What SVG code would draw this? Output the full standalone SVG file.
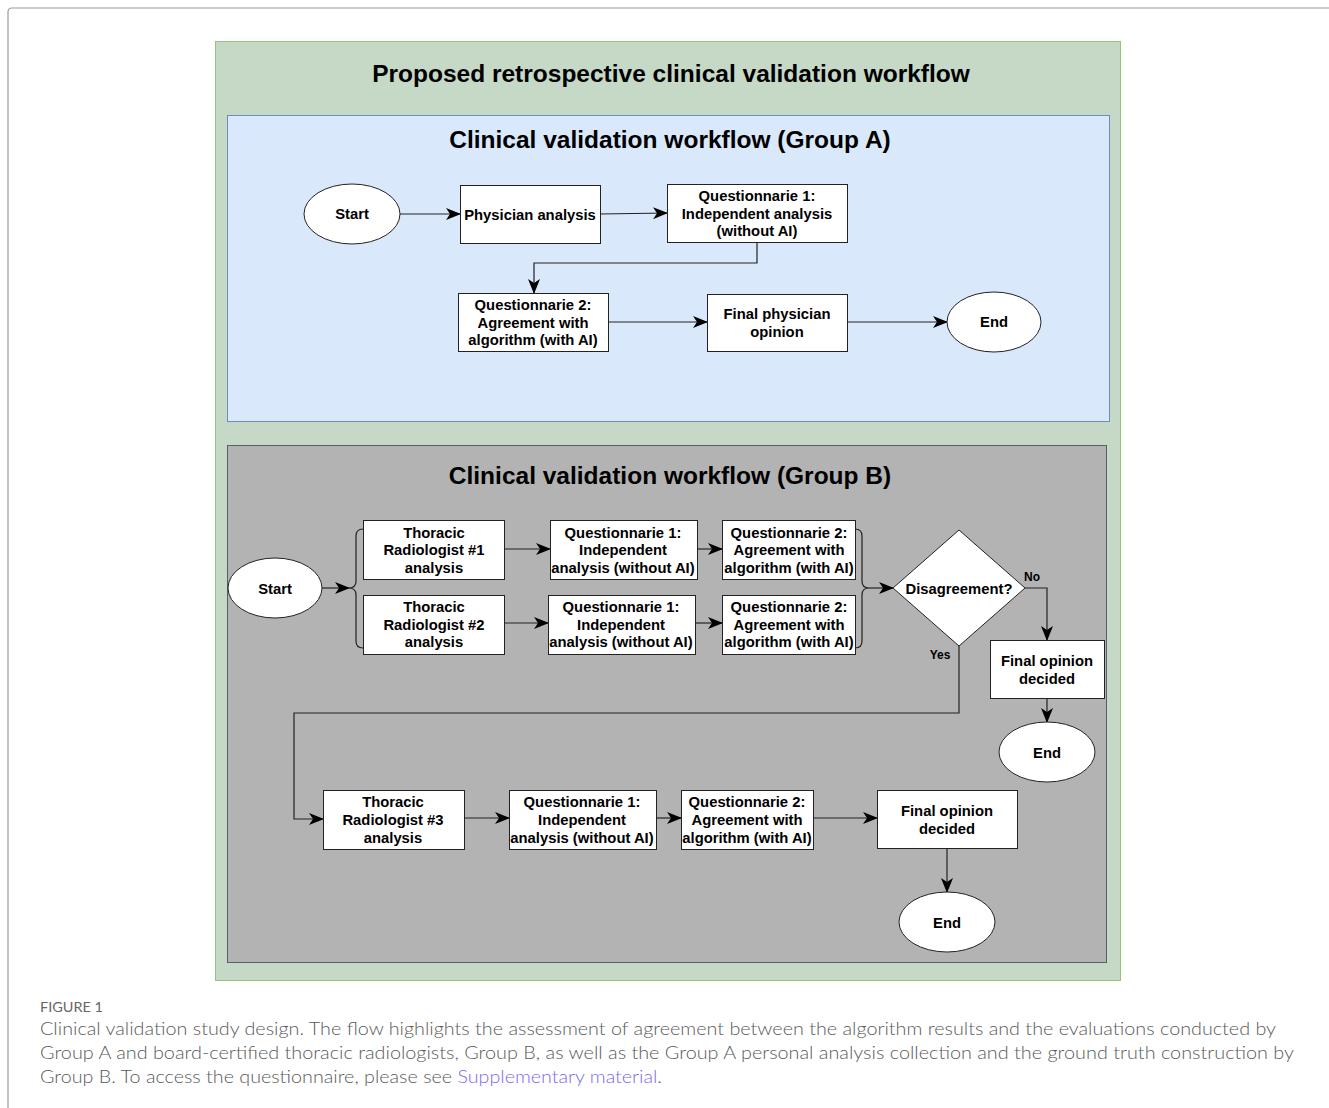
<svg xmlns="http://www.w3.org/2000/svg" width="1329" height="1108" viewBox="0 0 1329 1108">
<defs>
<marker id="arr" markerUnits="userSpaceOnUse" markerWidth="15" markerHeight="12" refX="14" refY="6" orient="auto">
<path d="M0,0 L15,6 L0,12 L4,6 Z" fill="#000"/>
</marker>
<style>
.box{fill:#fff;stroke:#222;stroke-width:1}
.t{font-family:"Liberation Sans",Arial,sans-serif;font-weight:bold;font-size:14.8px;fill:#000;text-anchor:middle}
.h{font-family:"Liberation Sans",Arial,sans-serif;font-weight:bold;font-size:24.5px;fill:#000;text-anchor:middle}
.lbl{font-family:"Liberation Sans",Arial,sans-serif;font-weight:bold;font-size:12px;fill:#000;text-anchor:middle}
.c{fill:none;stroke:#222;stroke-width:1.2}
.ca{fill:none;stroke:#222;stroke-width:1.2;marker-end:url(#arr)}
.cap{font-family:Lato,"Open Sans",sans-serif;font-size:17px;fill:#5a5a5a;font-weight:300}
</style>
</defs>
<rect width="1329" height="1108" fill="#fff"/>
<path d="M8,1108 L8,12 Q8,8 12,8 L1329,8" fill="none" stroke="#9a9a9a" stroke-width="1.2"/>

<g id="container">
<rect x="215.5" y="41.5" width="905" height="939" fill="#c6d9c7" stroke="#93c47d" stroke-width="1"/>
<text class="h" x="671" y="82">Proposed retrospective clinical validation workflow</text>
</g>

<g id="groupA">
<rect x="227.5" y="115.5" width="882" height="306" fill="#dae8fc" stroke="#6c8ebf" stroke-width="1"/>
<text class="h" x="670" y="148">Clinical validation workflow (Group A)</text>
</g>

<g id="groupB">
<rect x="227.5" y="445.5" width="879" height="517" fill="#b3b3b3" stroke="#4f6464" stroke-width="1"/>
<text class="h" x="670" y="484">Clinical validation workflow (Group B)</text>
</g>

<g id="connectors">
<!-- Group A -->
<path class="ca" d="M400,214 L460,214"/>
<path class="ca" d="M600,214 L667,213"/>
<path class="ca" d="M757,242 L757,263 L534,263 L534,293"/>
<path class="ca" d="M608,322 L707,322"/>
<path class="ca" d="M847,322 L947,322"/>
<!-- Group B -->
<path class="ca" d="M322,588 L349,588"/>
<path class="c" d="M363,529 Q356,529 356,536 L356,581 Q356,588 349,588 Q356,588 356,595 L356,641 Q356,648 363,648"/>
<path class="ca" d="M504,549 L550,549"/>
<path class="ca" d="M697,549 L722,549"/>
<path class="ca" d="M504,623 L548,623"/>
<path class="ca" d="M695,623 L722,623"/>
<path class="c" d="M855,529 Q862,529 862,536 L862,581 Q862,588 869,588 Q862,588 862,595 L862,641 Q862,648 855,648"/>
<path class="ca" d="M869,588 L893,588"/>
<path class="ca" d="M1025,588 L1047,588 L1047,640"/>
<text class="lbl" x="1032" y="581">No</text>
<path class="ca" d="M1047,698 L1047,722"/>
<path class="ca" d="M959,646 L959,713 L294,713 L294,819 L323,819"/>
<text class="lbl" x="940" y="659">Yes</text>
<path class="ca" d="M464,818 L509,818"/>
<path class="ca" d="M656,818 L681,818"/>
<path class="ca" d="M813,818 L877,818"/>
<path class="ca" d="M947,848 L947,892"/>
</g>

<g id="a_start"><ellipse class="box" cx="352" cy="214" rx="48" ry="30"/><text class="t" x="352" y="219">Start</text></g>
<g id="a_physician"><rect class="box" x="460.5" y="185.5" width="140" height="58"/><text class="t" x="530" y="220">Physician analysis</text></g>
<g id="a_q1"><rect class="box" x="667.5" y="184.5" width="180" height="58"/>
<text class="t" x="757" y="201">Questionnarie 1:</text><text class="t" x="757" y="219">Independent analysis</text><text class="t" x="757" y="236">(without AI)</text></g>
<g id="a_q2"><rect class="box" x="458.5" y="293.5" width="150" height="58"/>
<text class="t" x="533" y="310">Questionnarie 2:</text><text class="t" x="533" y="328">Agreement with</text><text class="t" x="533" y="345">algorithm (with AI)</text></g>
<g id="a_final"><rect class="box" x="707.5" y="294.5" width="140" height="57"/>
<text class="t" x="777" y="319">Final physician</text><text class="t" x="777" y="337">opinion</text></g>
<g id="a_end"><ellipse class="box" cx="994" cy="322" rx="47" ry="30"/><text class="t" x="994" y="327">End</text></g>

<g id="b_start"><ellipse class="box" cx="275" cy="588" rx="47" ry="30"/><text class="t" x="275" y="594">Start</text></g>
<g id="b_tr1"><rect class="box" x="363.5" y="520.5" width="141" height="59"/>
<text class="t" x="434" y="538">Thoracic</text><text class="t" x="434" y="555">Radiologist #1</text><text class="t" x="434" y="573">analysis</text></g>
<g id="b_tr2"><rect class="box" x="363.5" y="595.5" width="141" height="59"/>
<text class="t" x="434" y="612">Thoracic</text><text class="t" x="434" y="630">Radiologist #2</text><text class="t" x="434" y="647">analysis</text></g>
<g id="b_q1r1"><rect class="box" x="550.5" y="520.5" width="147" height="59"/>
<text class="t" x="623" y="538">Questionnarie 1:</text><text class="t" x="623" y="555">Independent</text><text class="t" x="623" y="573">analysis (without AI)</text></g>
<g id="b_q1r2"><rect class="box" x="548.5" y="595.5" width="147" height="59"/>
<text class="t" x="621" y="612">Questionnarie 1:</text><text class="t" x="621" y="630">Independent</text><text class="t" x="621" y="647">analysis (without AI)</text></g>
<g id="b_q2r1"><rect class="box" x="722.5" y="520.5" width="133" height="59"/>
<text class="t" x="789" y="538">Questionnarie 2:</text><text class="t" x="789" y="555">Agreement with</text><text class="t" x="789" y="573">algorithm (with AI)</text></g>
<g id="b_q2r2"><rect class="box" x="722.5" y="595.5" width="133" height="59"/>
<text class="t" x="789" y="612">Questionnarie 2:</text><text class="t" x="789" y="630">Agreement with</text><text class="t" x="789" y="647">algorithm (with AI)</text></g>
<g id="b_decision"><path class="box" d="M959,530 L1025,588 L959,646 L893,588 Z"/><text class="t" x="959" y="594">Disagreement?</text></g>
<g id="b_final1"><rect class="box" x="990.5" y="640.5" width="114" height="58"/>
<text class="t" x="1047" y="666">Final opinion</text><text class="t" x="1047" y="684">decided</text></g>
<g id="b_end1"><ellipse class="box" cx="1047" cy="752" rx="48" ry="30"/><text class="t" x="1047" y="758">End</text></g>
<g id="b_tr3"><rect class="box" x="323.5" y="790.5" width="141" height="59"/>
<text class="t" x="393" y="807">Thoracic</text><text class="t" x="393" y="825">Radiologist #3</text><text class="t" x="393" y="843">analysis</text></g>
<g id="b_q1r3"><rect class="box" x="509.5" y="790.5" width="147" height="59"/>
<text class="t" x="582" y="807">Questionnarie 1:</text><text class="t" x="582" y="825">Independent</text><text class="t" x="582" y="843">analysis (without AI)</text></g>
<g id="b_q2r3"><rect class="box" x="681.5" y="790.5" width="132" height="59"/>
<text class="t" x="747" y="807">Questionnarie 2:</text><text class="t" x="747" y="825">Agreement with</text><text class="t" x="747" y="843">algorithm (with AI)</text></g>
<g id="b_final2"><rect class="box" x="877.5" y="790.5" width="140" height="58"/>
<text class="t" x="947" y="816">Final opinion</text><text class="t" x="947" y="834">decided</text></g>
<g id="b_end2"><ellipse class="box" cx="947" cy="922" rx="48" ry="30"/><text class="t" x="947" y="928">End</text></g>

<g id="caption">
<text x="40" y="1012" font-family="Lato,'Open Sans',sans-serif" font-size="13" fill="#666" textLength="63" lengthAdjust="spacingAndGlyphs">FIGURE 1</text>
<text class="cap" x="40" y="1035" textLength="1236" lengthAdjust="spacingAndGlyphs">Clinical validation study design. The flow highlights the assessment of agreement between the algorithm results and the evaluations conducted by</text>
<text class="cap" x="40" y="1059" textLength="1254" lengthAdjust="spacingAndGlyphs">Group A and board-certified thoracic radiologists, Group B, as well as the Group A personal analysis collection and the ground truth construction by</text>
<text class="cap" x="40" y="1083" textLength="622" lengthAdjust="spacingAndGlyphs">Group B. To access the questionnaire, please see <tspan fill="#7b68ee">Supplementary material</tspan>.</text>
</g>
</svg>
